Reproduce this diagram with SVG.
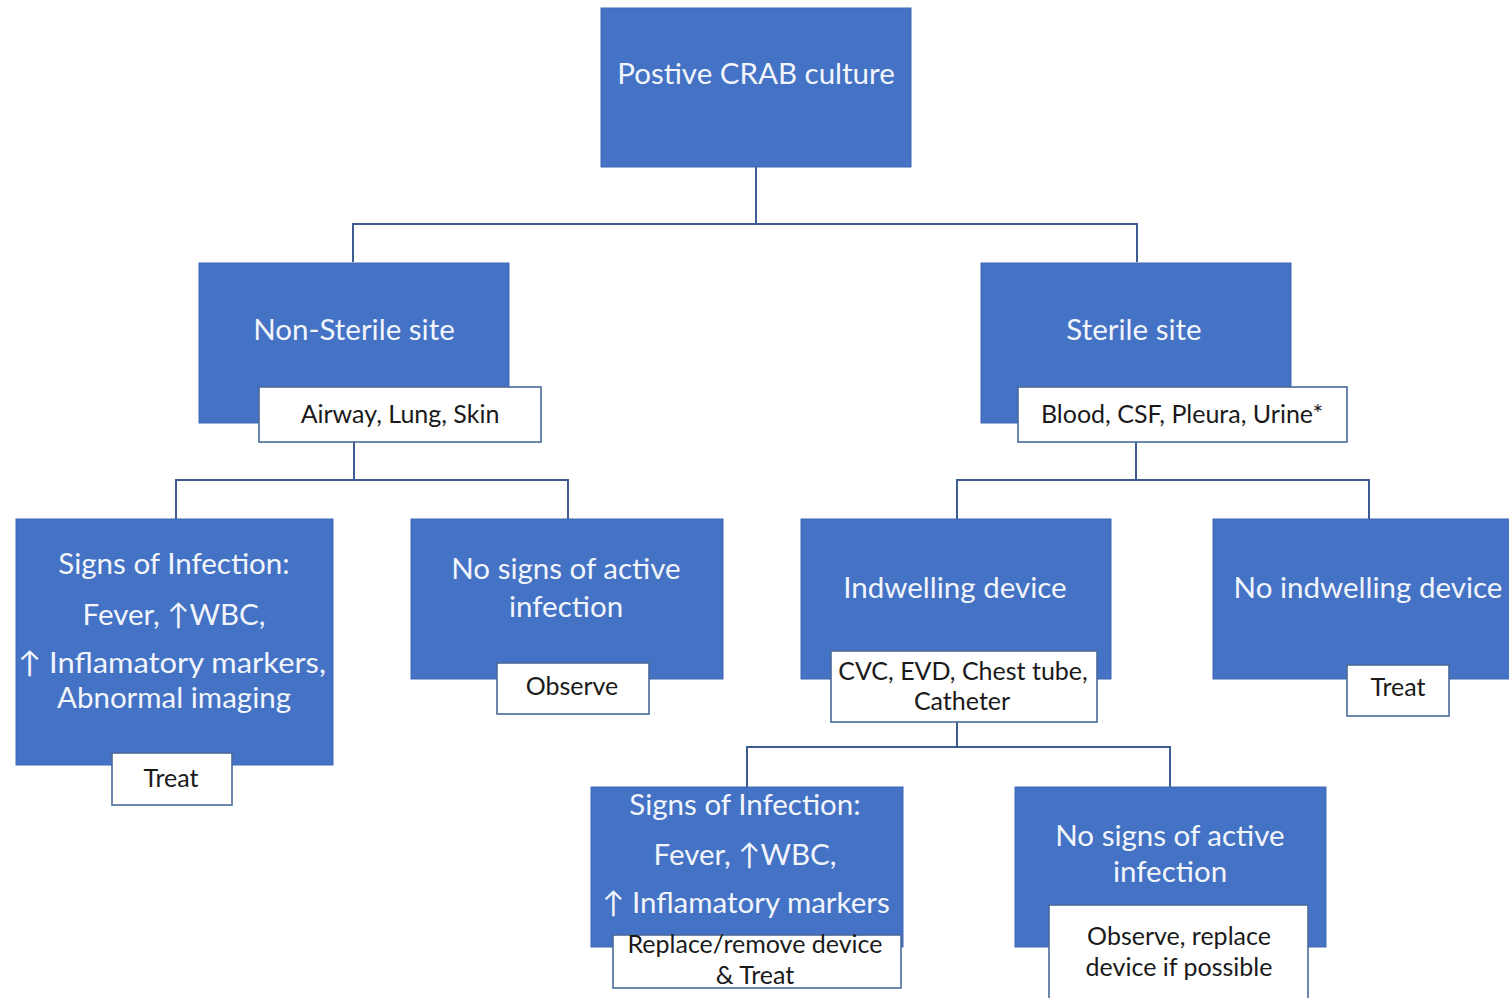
<svg xmlns="http://www.w3.org/2000/svg" width="1509" height="998" viewBox="0 0 1509 998">
<style>
.box{fill:#4472C4;stroke:#3f68b0;stroke-width:1}
.lab{fill:#ffffff;stroke:#4a6a9a;stroke-width:1.6}
.bt{font-family:Lato,"Open Sans","Noto Sans",sans-serif;font-size:29.5px;fill:#f2f5fb;text-anchor:middle}
.lt{font-family:Lato,"Open Sans","Noto Sans",sans-serif;font-size:25px;fill:#1a1a1a;text-anchor:middle}
.con{fill:none;stroke:#3d5d92;stroke-width:2}
</style>
<rect width="1509" height="998" fill="#ffffff"/>
<g id="connectors">
<path class="con" d="M756 167V224M353 262V224H1137V262"/>
<path class="con" d="M354 442V480M176 519V480H568V519"/>
<path class="con" d="M1136 442V480M957 519V480H1369V519"/>
<path class="con" d="M957 722V747M747 787V747H1170V787"/>
</g>
<g id="n-root">
<rect class="box" x="601" y="8" width="310" height="159"/>
<text class="bt" x="756" y="84">Postive CRAB culture</text>
</g>
<g id="n-nonsterile">
<rect class="box" x="199" y="263" width="310" height="160"/>
<text class="bt" x="354" y="340">Non-Sterile site</text>
<rect class="lab" x="259" y="387" width="282" height="55"/>
<text class="lt" x="400" y="423">Airway, Lung, Skin</text>
</g>
<g id="n-sterile">
<rect class="box" x="981" y="263" width="310" height="160"/>
<text class="bt" x="1134" y="340">Sterile site</text>
<rect class="lab" x="1018" y="387" width="329" height="55"/>
<text class="lt" x="1182" y="423">Blood, CSF, Pleura, Urine*</text>
</g>
<g id="n-signs1">
<rect class="box" x="16" y="519" width="317" height="246"/>
<text class="bt" x="174" y="574">Signs of Infection:</text>
<text class="bt" x="174" y="625">Fever, ↑WBC,</text>
<text class="bt" x="172" y="673" textLength="308" lengthAdjust="spacingAndGlyphs">↑ Inflamatory markers,</text>
<text class="bt" x="174" y="708">Abnormal imaging</text>
<rect class="lab" x="112" y="753" width="120" height="52"/>
<text class="lt" x="171" y="787">Treat</text>
</g>
<g id="n-nosigns1">
<rect class="box" x="411" y="519" width="312" height="160"/>
<text class="bt" x="566" y="579">No signs of active</text>
<text class="bt" x="566" y="617">infection</text>
<rect class="lab" x="497" y="663" width="152" height="51"/>
<text class="lt" x="572" y="695">Observe</text>
</g>
<g id="n-indwelling">
<rect class="box" x="801" y="519" width="310" height="160"/>
<text class="bt" x="955" y="598">Indwelling device</text>
<rect class="lab" x="831" y="651" width="266" height="71"/>
<text class="lt" x="963" y="680">CVC, EVD, Chest tube,</text>
<text class="lt" x="962" y="710">Catheter</text>
</g>
<g id="n-noindwelling">
<rect class="box" x="1213" y="519" width="300" height="160"/>
<text class="bt" x="1368" y="598">No indwelling device</text>
<rect class="lab" x="1347" y="665" width="102" height="51"/>
<text class="lt" x="1398" y="696">Treat</text>
</g>
<g id="n-signs2">
<rect class="box" x="591" y="787" width="312" height="160"/>
<text class="bt" x="745" y="815">Signs of Infection:</text>
<text class="bt" x="745" y="865">Fever, ↑WBC,</text>
<text class="bt" x="746" y="913">↑ Inflamatory markers</text>
<rect class="lab" x="613" y="935" width="288" height="53"/>
<text class="lt" x="755" y="953">Replace/remove device</text>
<text class="lt" x="755" y="984">&amp; Treat</text>
</g>
<g id="n-nosigns2">
<rect class="box" x="1015" y="787" width="311" height="160"/>
<text class="bt" x="1170" y="846">No signs of active</text>
<text class="bt" x="1170" y="882">infection</text>
<rect class="lab" x="1049" y="905" width="259" height="95"/>
<text class="lt" x="1179" y="945">Observe, replace</text>
<text class="lt" x="1179" y="976">device if possible</text>
</g>
</svg>
